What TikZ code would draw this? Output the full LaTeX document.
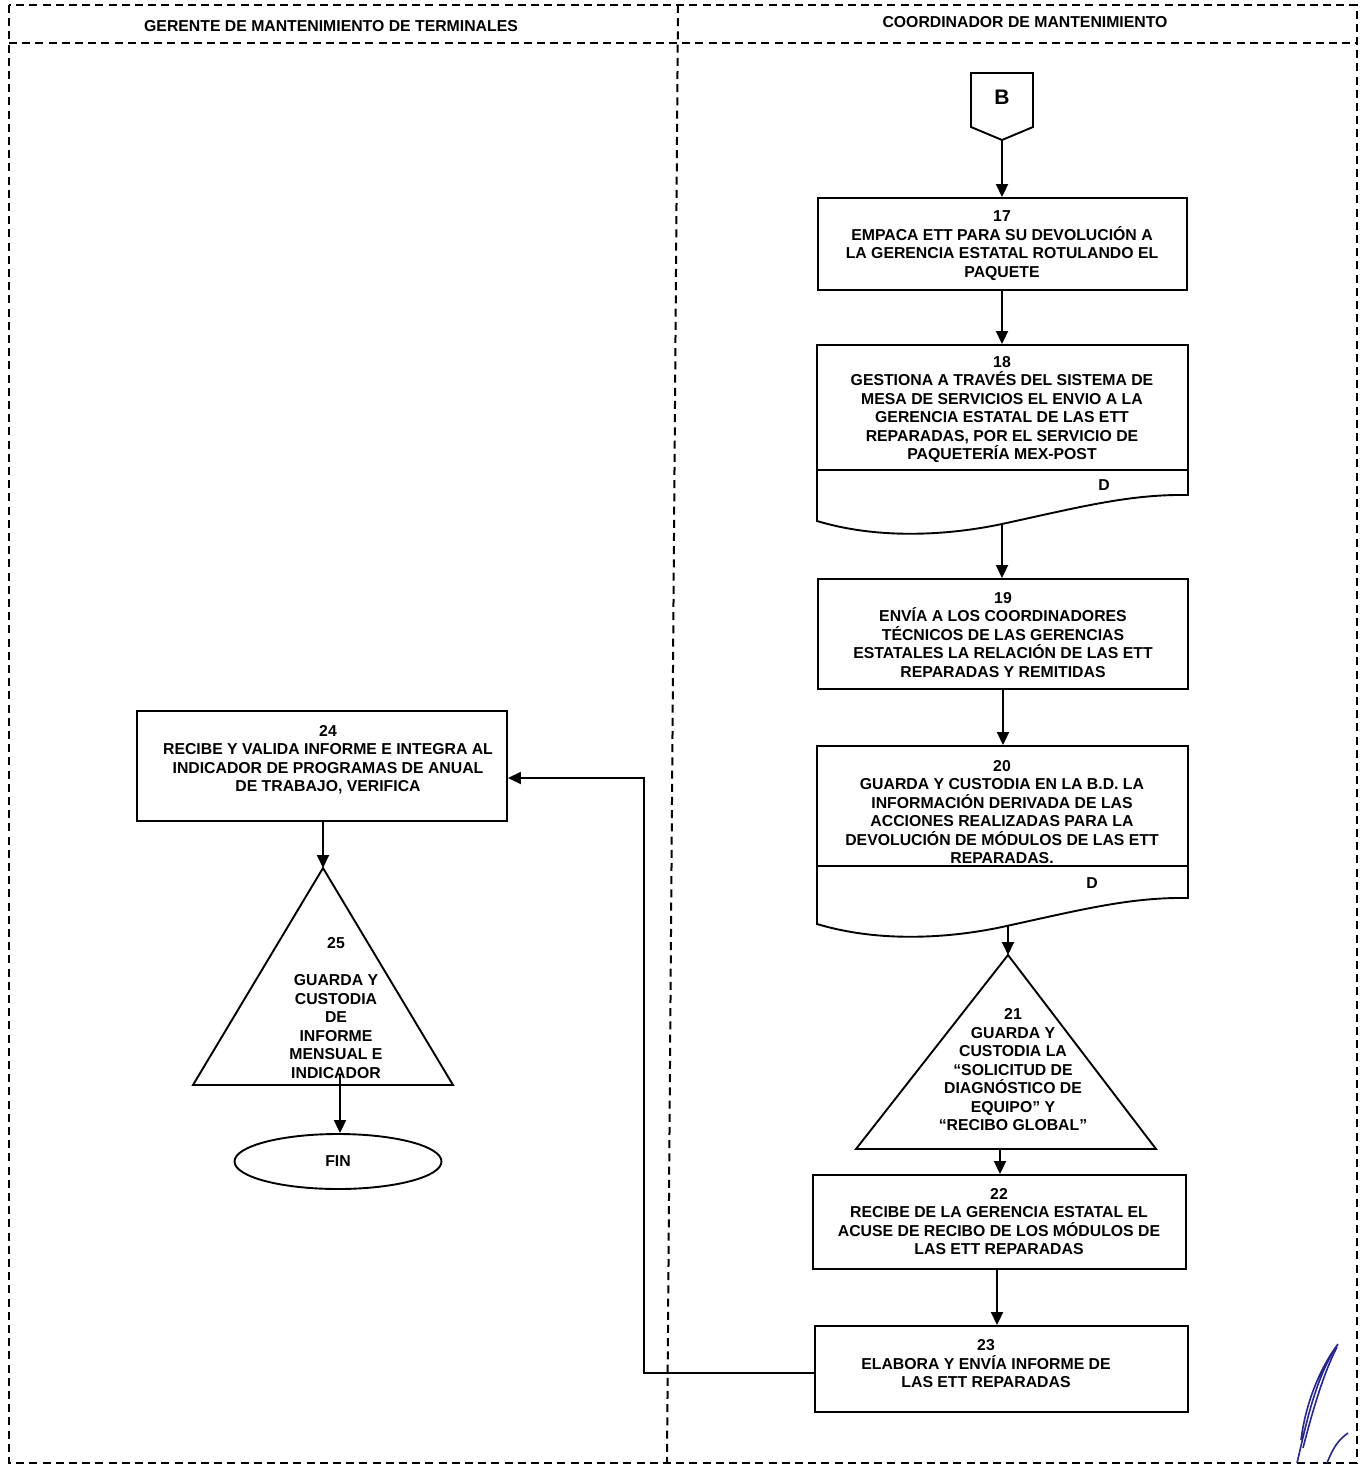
\documentclass[tikz,border=0pt]{standalone}
\usepackage{fontspec}
\setmainfont{Liberation Sans}
\usetikzlibrary{arrows.meta,shapes.geometric}
\tikzset{
  lane/.style={line width=1pt, dash pattern=on 4pt off 2.6pt},
  shp/.style={draw, line width=0.95pt},
  box/.style={shp, rectangle, inner sep=0pt},
  txt/.style={align=center, inner sep=0pt, font=\fontsize{7.9pt}{9.25pt}\selectfont\bfseries},
  hdr/.style={inner sep=0pt, font=\fontsize{7.9pt}{9pt}\selectfont\bfseries},
  arr/.style={line width=0.95pt, -{Triangle[length=6.5pt,width=6pt]}},
  sig/.style={draw=blue!50!black!85, line width=0.8pt}
}
\begin{document}
\begin{tikzpicture}[x=0.5pt,y=-0.5pt]
\useasboundingbox (0,0) rectangle (1364,1467);
% swimlane frame
\draw[lane] (9,5) rectangle (1357,1463);
\draw[lane] (9,43) -- (1357,43);
\draw[lane] (678,5) -- (667,1463);
\node[hdr] (h1) at (331,26) {GERENTE DE MANTENIMIENTO DE TERMINALES};
\node[hdr] (h2) at (1025,22) {COORDINADOR DE MANTENIMIENTO};

% off-page connector B
\draw[shp] (971,73) -- (1033,73) -- (1033,127) -- (1002,140) -- (971,127) -- cycle;
\node[txt, font=\fontsize{10.5pt}{12pt}\selectfont\bfseries] (B) at (1002,97) {B};
\coordinate (Bpt) at (1002,140);

% 17
\node[box, minimum width=184.5pt, minimum height=46pt] (b17) at (1002.5,244) {};
\node[txt] (x17) at (1002,245.5)
 {17\\EMPACA ETT PARA SU DEVOLUCIÓN A\\LA GERENCIA ESTATAL ROTULANDO EL\\PAQUETE};

% 18 document
\node[box, minimum width=185.5pt, minimum height=62.5pt] (d18) at (1002.5,407.5) {};
\node[txt] (x18) at (1002,409.5)
 {18\\GESTIONA A TRAVÉS DEL SISTEMA DE\\MESA DE SERVICIOS EL ENVIO A LA\\GERENCIA ESTATAL DE LAS ETT\\REPARADAS, POR EL SERVICIO DE\\PAQUETERÍA MEX-POST};
\draw[shp] (817,470) -- (817,521) .. controls (880,540) and (950,535) .. (1002,524)
  .. controls (1080,507) and (1130,494) .. (1188,495) -- (1188,470);
\node[txt] (D18) at (1104,485) {D};
\coordinate (d18b) at (1002,524);

% 19
\node[box, minimum width=185pt, minimum height=55pt] (b19) at (1003,634) {};
\node[txt] (x19) at (1003,635)
 {19\\ENVÍA A LOS COORDINADORES\\TÉCNICOS DE LAS GERENCIAS\\ESTATALES LA RELACIÓN DE LAS ETT\\REPARADAS Y REMITIDAS};

% 20 document
\node[box, minimum width=185.5pt, minimum height=60pt] (d20) at (1002.5,806) {};
\node[txt] (x20) at (1002,812)
 {20\\GUARDA Y CUSTODIA EN LA B.D. LA\\INFORMACIÓN DERIVADA DE LAS\\ACCIONES REALIZADAS PARA LA\\DEVOLUCIÓN DE MÓDULOS DE LAS ETT\\REPARADAS.};
\draw[shp] (817,866) -- (817,924) .. controls (880,943) and (950,938) .. (1002,927)
  .. controls (1080,910) and (1130,897) .. (1188,898) -- (1188,866);
\node[txt] (D20) at (1092,883) {D};
\coordinate (d20b) at (1008,926);

% 21 triangle
\coordinate (t21) at (1008,955);
\coordinate (t21b) at (1000,1149);
\draw[shp] (t21) -- (1156,1149) -- (856,1149) -- cycle;
\node[txt] (x21) at (1013,1070)
 {21\\GUARDA Y\\CUSTODIA LA\\“SOLICITUD DE\\DIAGNÓSTICO DE\\EQUIPO” Y\\“RECIBO GLOBAL”};

% 22
\node[box, minimum width=186.5pt, minimum height=47pt] (b22) at (999.5,1222) {};
\node[txt] (x22) at (999,1221.5)
 {22\\RECIBE DE LA GERENCIA ESTATAL EL\\ACUSE DE RECIBO DE LOS MÓDULOS DE\\LAS ETT REPARADAS};

% 23
\node[box, minimum width=186.5pt, minimum height=43pt] (b23) at (1001.5,1369) {};
\node[txt] (x23) at (986,1364) {23\\ELABORA Y ENVÍA INFORME DE\\LAS ETT REPARADAS};

% 24
\node[box, minimum width=185pt, minimum height=55pt] (b24) at (322,766) {};
\node[txt] (x24) at (328,759.5)
 {24\\RECIBE Y VALIDA INFORME E INTEGRA AL\\INDICADOR DE PROGRAMAS DE ANUAL\\DE TRABAJO, VERIFICA};

% 25 triangle
\coordinate (t25) at (323,868);
\coordinate (t25b) at (340,1075);
\draw[shp] (t25) -- (453,1085) -- (193,1085) -- cycle;
\node[txt] (x25) at (336,1008)
 {25\\[9.25pt]GUARDA Y\\CUSTODIA\\DE\\INFORME\\MENSUAL E\\INDICADOR};

% FIN
\node[shp, ellipse, minimum width=103.5pt, minimum height=27.5pt, inner sep=0pt,
  font=\fontsize{7.9pt}{9.25pt}\selectfont\bfseries] (fin) at (338,1161.5) {FIN};

% connectors
\draw[arr] (Bpt) -- (b17.north -| Bpt);
\draw[arr] (b17.south -| 1002,0) -- (d18.north -| 1002,0);
\draw[arr] (d18b) -- (b19.north -| d18b);
\draw[arr] (b19.south) -- (d20.north -| b19.south);
\draw[arr] (d20b) -- (t21);
\draw[arr] (t21b) -- (b22.north -| t21b);
\draw[arr] (b22.south -| 997,0) -- (b23.north -| 997,0);
\draw[arr] ([yshift=-2pt]b23.west) -- ([yshift=-2pt]b23.west -| 644,0) |- ([yshift=-6pt]b24.east);
\draw[arr] (b24.south -| t25) -- (t25);
\draw[arr] (t25b) -- (fin.north -| t25b);

% signature
\draw[sig] (1297,1463) .. controls (1306,1425) and (1315,1378) .. (1338,1344)
  .. controls (1322,1365) and (1306,1400) .. (1301,1440);
\draw[sig] (1303,1448) .. controls (1314,1405) and (1325,1370) .. (1337,1347);
\draw[sig] (1327,1463) .. controls (1333,1448) and (1338,1440) .. (1348,1433);
\end{tikzpicture}
\end{document}
